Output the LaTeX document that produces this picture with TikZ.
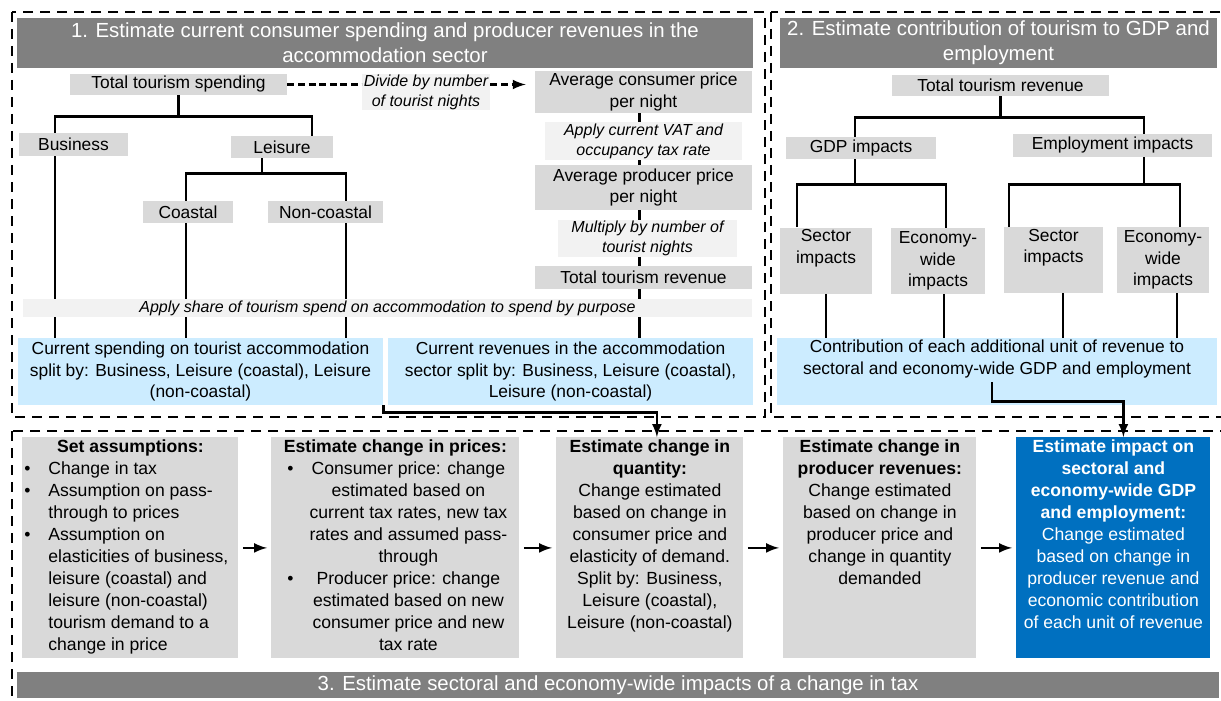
\documentclass[tikz,border=0pt]{standalone}
\usepackage{fontspec}
\setmainfont{Liberation Sans}
\usepackage{xcolor}

\definecolor{hdrgray}{HTML}{808080}
\definecolor{boxgray}{HTML}{D9D9D9}
\definecolor{notegray}{HTML}{F2F2F2}
\definecolor{paleblue}{HTML}{CCECFF}
\definecolor{deepblue}{HTML}{0070C0}

\newcommand{\bitem}[1]{\par\hangindent=12pt\hangafter=1\noindent\makebox[12pt][l]{\textbullet}#1}
\newcommand{\pbul}[1]{\hspace*{7pt}\makebox[6pt][l]{\textbullet}\makebox[109pt]{#1}}
\newcommand{\pcont}[1]{\hspace*{13pt}\makebox[109pt]{#1}}

\begin{document}
\begin{tikzpicture}[x=0.5pt,y=-0.5pt,
	head/.style={fill=hdrgray, text=white, inner sep=0pt, align=center, font=\fontsize{10.2}{12.5}\selectfont},
	lbl/.style={fill=boxgray, inner sep=0pt, align=center, font=\fontsize{8.7}{10.8}\selectfont},
	note/.style={fill=notegray, inner sep=0pt, align=center, font=\fontsize{8}{10}\selectfont\itshape},
	result/.style={fill=paleblue, inner sep=0pt, align=center, font=\fontsize{8.7}{10.8}\selectfont},
	stage/.style={fill=#1, inner xsep=1pt, inner ysep=1pt, anchor=north west, font=\fontsize{8.8}{11}\selectfont},
	stage/.default=boxgray,
	link/.style={line width=1.2pt},
	zone/.style={line width=1.2pt, dash pattern=on 5pt off 3.5pt}]

	\useasboundingbox (0,0) rectangle (1221,701);

	\draw[zone] (12,12) rectangle (765,417);
	\draw[zone] (771,12) rectangle (1228,417);
	\draw[zone] (12,431) rectangle (1228,708);

	\node[head, minimum width=368pt, minimum height=25pt] (hdra) at (385,43) {1. Estimate current consumer spending and producer revenues in the\\accommodation sector};
	\node[head, minimum width=218.5pt, minimum height=25pt] (hdrb) at (998.5,43) {2. Estimate contribution of tourism to GDP and\\employment};
	\node[head, minimum width=601pt, minimum height=13pt] (hdrc) at (618,685) {3. Estimate sectoral and economy-wide impacts of a change in tax};

	\node[lbl, minimum width=108.5pt, minimum height=10.5pt] (tts) at (178.5,84.5) {Total tourism spending};
	\node[note, minimum width=64pt, minimum height=18pt] (divide) at (426,92) {Divide by number\\of tourist nights};
	\node[lbl, minimum width=108.5pt, minimum height=21pt] (acp) at (643.5,92) {Average consumer price\\per night};
	\node[note, minimum width=98.5pt, minimum height=19pt] (vat) at (643.5,141) {Apply current VAT and\\occupancy tax rate};
	\node[lbl, minimum width=108.5pt, minimum height=22.5pt] (app) at (643.5,187.5) {Average producer price\\per night};
	\node[note, minimum width=89.5pt, minimum height=18.5pt] (mult) at (647.5,238.5) {Multiply by number of\\tourist nights};
	\node[lbl, minimum width=108.5pt, minimum height=11.5pt] (ttr) at (643.5,277.5) {Total tourism revenue};
	\node[note, minimum width=364.5pt, minimum height=9pt] (share) at (387.5,308) {Apply share of tourism spend on accommodation to spend by purpose};

	\node[lbl, minimum width=54.5pt, minimum height=11.5pt] (bus) at (73.5,144.5) {Business};
	\node[lbl, minimum width=51pt, minimum height=11pt] (lei) at (282,147) {Leisure};
	\node[lbl, minimum width=45pt, minimum height=11pt] (coa) at (188,212) {Coastal};
	\node[lbl, minimum width=57.5pt, minimum height=11pt] (nco) at (325.5,212) {Non-coastal};

	\node[result, minimum width=182.5pt, minimum height=33.5pt] (spend) at (200.5,371.5) {Current spending on tourist accommodation\\split by: Business, Leisure (coastal), Leisure\\(non-coastal)};
	\node[result, minimum width=182.5pt, minimum height=33.5pt] (crev) at (570.5,371.5) {Current revenues in the accommodation\\sector split by: Business, Leisure (coastal),\\Leisure (non-coastal)};

	\node[lbl, minimum width=108.5pt, minimum height=10.5pt] (ttr2) at (1000.5,85.5) {Total tourism revenue};
	\node[lbl, minimum width=75pt, minimum height=11pt] (gdp) at (861,148) {GDP impacts};
	\node[lbl, minimum width=99.5pt, minimum height=11.5pt] (emp) at (1112.5,145.5) {Employment impacts};
	\node[lbl, minimum width=46pt, minimum height=33pt] (sec1) at (826,260.5) {Sector\\impacts\\\strut};
	\node[lbl, minimum width=47pt, minimum height=33pt] (eco1) at (938,261) {Economy-\\wide\\impacts};
	\node[lbl, minimum width=49.5pt, minimum height=33pt] (sec2) at (1053.5,260) {Sector\\impacts\\\strut};
	\node[lbl, minimum width=46pt, minimum height=33pt] (eco2) at (1163,260) {Economy-\\wide\\impacts};
	\node[result, minimum width=220pt, minimum height=33.5pt] (contrib) at (997,371.5) {Contribution of each additional unit of revenue to\\sectoral and economy-wide GDP and employment\\\strut};

	\node[stage] (assume) at (22,437) {\parbox[c][108.5pt][t]{106pt}{\centering\bfseries Set assumptions:\par\raggedright\mdseries
		\bitem{Change in tax}
		\bitem{Assumption on pass-\newline through to prices}
		\bitem{Assumption on\newline elasticities of business,\newline leisure (coastal) and\newline leisure (non-coastal)\newline tourism demand to a\newline change in price}}};
	\node[stage] (prices) at (271,437) {\parbox[c][108.5pt][t]{122pt}{\centering{\bfseries Estimate change in prices:}\\
		\pbul{Consumer price: change}\\\pcont{estimated based on}\\\pcont{current tax rates, new tax}\\\pcont{rates and assumed pass-}\\\pcont{through}\\
		\pbul{Producer price: change}\\\pcont{estimated based on new}\\\pcont{consumer price and new}\\\pcont{tax rate}}};
	\node[stage] (qty) at (556,437) {\parbox[c][108.5pt][t]{91.5pt}{\centering{\bfseries Estimate change in\\quantity:}\\Change estimated\\based on change in\\consumer price and\\elasticity of demand.\\Split by: Business,\\Leisure (coastal),\\Leisure (non-coastal)}};
	\node[stage] (prodrev) at (783,437) {\parbox[c][108.5pt][t]{94.5pt}{\centering{\bfseries Estimate change in\\producer revenues:}\\Change estimated\\based on change in\\producer price and\\change in quantity\\demanded}};
	\node[stage=deepblue, text=white] (impact) at (1016,437) {\parbox[c][108.5pt][t]{95pt}{\centering{\bfseries Estimate impact on\\sectoral and\\economy-wide GDP\\and employment:}\\Change estimated\\based on change in\\producer revenue and\\economic contribution\\of each unit of revenue}};

	\draw[link, dash pattern=on 3.5pt off 1.8pt] (tts.east) -- (tts.east -| divide.west);
	\draw[link, dash pattern=on 3.5pt off 1.8pt, -latex, shorten >=4.5pt] (tts.east -| divide.east) -- (tts.east -| acp.west);

	\draw[link] (tts.south) -- ++(0,21) coordinate (t1);
	\draw[link] ([xshift=-9.25pt]bus.north) |- (t1) -| ([xshift=15pt]lei.north);
	\draw[link] ([xshift=-10pt]lei.south) -- ++(0,15) coordinate (t2);
	\draw[link] ([xshift=-1pt]coa.north) |- (t2) -| ([xshift=10.25pt]nco.north);
	\foreach \src/\dx in {bus/-9.25pt, coa/-1pt, nco/10.25pt} {
		\draw[link] ([xshift=\dx]\src.south) -- ([xshift=\dx]\src.south |- share.north);
		\draw[link] ([xshift=\dx]\src.south |- share.south) -- ([xshift=\dx]\src.south |- spend.north);
	}

	\coordinate (vx) at ([xshift=-2pt]acp.south);
	\foreach \a/\b in {acp/vat, vat/app, app/mult, mult/ttr, ttr/share, share/crev} {
		\draw[link] (\a.south -| vx) -- (\b.north -| vx);
	}

	\draw[link] (ttr2.south) -- ++(0,21) coordinate (t3);
	\draw[link] ([xshift=-3pt]gdp.north) |- (t3) -| ([xshift=15.75pt]emp.north);
	\draw[link] ([xshift=-3pt]gdp.south) -- ++(0,25) coordinate (t4);
	\draw[link] ([xshift=-14.5pt]sec1.north) |- (t4) -| ([xshift=4pt]eco1.north);
	\draw[link] ([xshift=15.75pt]emp.south) -- ++(0,27) coordinate (t5);
	\draw[link] ([xshift=-22.25pt]sec2.north) |- (t5) -| ([xshift=8.5pt]eco2.north);
	\foreach \src/\dx in {sec1/0pt, eco1/3pt, sec2/4.75pt, eco2/7pt} {
		\draw[link] ([xshift=\dx]\src.south) -- ([xshift=\dx]\src.south |- contrib.north);
	}

	\draw[link, -latex] (spend.south east) -- ++(0,7) -| ([xshift=3.5pt]qty.north);
	\draw[link, -latex] ([xshift=-2.5pt,yshift=11.5pt]contrib.south) -- ++(0,19) -| ([xshift=5pt]impact.north);

	\foreach \a/\b in {assume/prices, prices/qty, qty/prodrev, prodrev/impact} {
		\draw[link, -latex, shorten <=2pt, shorten >=2pt] (\a.east) -- (\b.west);
	}
\end{tikzpicture}
\end{document}
